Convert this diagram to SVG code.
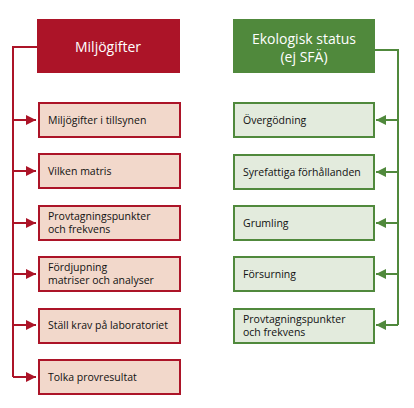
<svg xmlns="http://www.w3.org/2000/svg" width="414" height="408" viewBox="0 0 414 408">
<style>
text{font-family:"Open Sans","Liberation Sans",sans-serif;}
.hd{fill:#fff;font-size:14px;text-anchor:middle;}
.t{fill:#111;font-size:10.5px;}
.rb{fill:#F2D8CB;stroke:#AC1428;stroke-width:2;}
.gb{fill:#E3EBDD;stroke:#50893C;stroke-width:2;}
.rl{fill:none;stroke:#AC1428;stroke-width:2;}
.gl{fill:none;stroke:#50893C;stroke-width:2;}
</style>
<defs>
<marker id="ar" viewBox="0 0 10 10" refX="10" refY="5" markerWidth="10" markerHeight="10" markerUnits="userSpaceOnUse" orient="auto"><path d="M0,0 L10,5 L0,10 z" fill="#AC1428"/></marker>
<marker id="ag" viewBox="0 0 10 10" refX="10" refY="5" markerWidth="10" markerHeight="10" markerUnits="userSpaceOnUse" orient="auto"><path d="M0,0 L10,5 L0,10 z" fill="#50893C"/></marker>
</defs>
<g id="connectors">
<path class="rl" d="M37,47 H13 V377"/>
<path class="rl" d="M13,120 H36" marker-end="url(#ar)"/>
<path class="rl" d="M13,171 H36" marker-end="url(#ar)"/>
<path class="rl" d="M13,223 H36" marker-end="url(#ar)"/>
<path class="rl" d="M13,274 H36" marker-end="url(#ar)"/>
<path class="rl" d="M13,325 H36" marker-end="url(#ar)"/>
<path class="rl" d="M13,377 H36" marker-end="url(#ar)"/>
<path class="gl" d="M375,50 H398 V325"/>
<path class="gl" d="M398,120 H376" marker-end="url(#ag)"/>
<path class="gl" d="M398,172 H376" marker-end="url(#ag)"/>
<path class="gl" d="M398,223 H376" marker-end="url(#ag)"/>
<path class="gl" d="M398,274 H376" marker-end="url(#ag)"/>
<path class="gl" d="M398,325 H376" marker-end="url(#ag)"/>
</g>
<g id="miljogifter"><rect x="37" y="19" width="143" height="54" fill="#AC1428"/><text class="hd" x="108" y="52">Miljögifter</text></g>
<g id="r1"><rect class="rb" x="39" y="103" width="141" height="34"/><text class="t" x="48" y="124">Miljögifter i tillsynen</text></g>
<g id="r2"><rect class="rb" x="39" y="154" width="141" height="34"/><text class="t" x="48" y="175">Vilken matris</text></g>
<g id="r3"><rect class="rb" x="39" y="206" width="141" height="34"/><text class="t" x="48" y="220">Provtagningspunkter</text><text class="t" x="48" y="233">och frekvens</text></g>
<g id="r4"><rect class="rb" x="39" y="257" width="141" height="34"/><text class="t" x="48" y="271">Fördjupning</text><text class="t" x="48" y="284">matriser och analyser</text></g>
<g id="r5"><rect class="rb" x="39" y="309" width="141" height="34"/><text class="t" x="48" y="329">Ställ krav på laboratoriet</text></g>
<g id="r6"><rect class="rb" x="39" y="360" width="141" height="34"/><text class="t" x="48" y="381">Tolka provresultat</text></g>
<g id="ekologisk"><rect x="233" y="19" width="142" height="54" fill="#50893C"/><text class="hd" x="304" y="44">Ekologisk status</text><text class="hd" x="304" y="62">(ej SFÄ)</text></g>
<g id="g1"><rect class="gb" x="234" y="103" width="140" height="34"/><text class="t" x="243" y="124">Övergödning</text></g>
<g id="g2"><rect class="gb" x="234" y="155" width="140" height="34"/><text class="t" x="243" y="176">Syrefattiga förhållanden</text></g>
<g id="g3"><rect class="gb" x="234" y="206" width="140" height="34"/><text class="t" x="243" y="227">Grumling</text></g>
<g id="g4"><rect class="gb" x="234" y="257" width="140" height="34"/><text class="t" x="243" y="278">Försurning</text></g>
<g id="g5"><rect class="gb" x="234" y="309" width="140" height="34"/><text class="t" x="243" y="323">Provtagningspunkter</text><text class="t" x="243" y="336">och frekvens</text></g>
</svg>
